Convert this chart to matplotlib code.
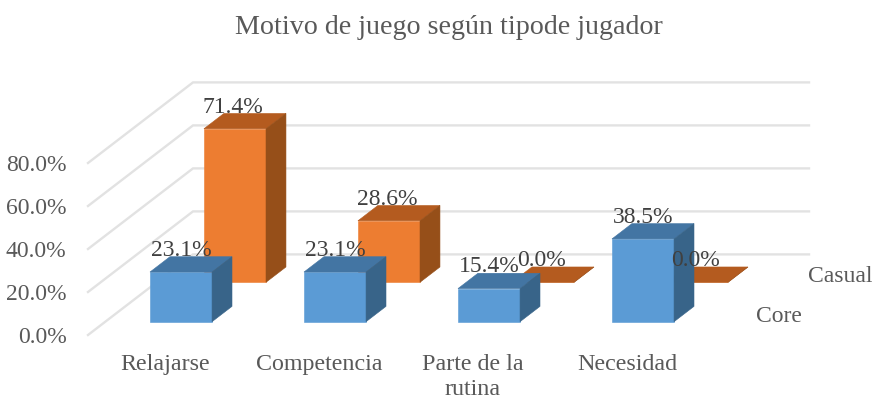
import matplotlib
matplotlib.use("Agg")
import matplotlib.pyplot as plt
from matplotlib.patches import Polygon

categories = ["Relajarse", "Competencia", "Parte de la\nrutina", "Necesidad"]
core = [23.1, 23.1, 15.4, 38.5]
casual = [71.4, 28.6, 0.0, 0.0]
yticks = [0, 20, 40, 60, 80]
title = "Motivo de juego según tipode jugador"

W, H = 873, 400
plt.rcParams["font.family"] = ["Liberation Serif", "DejaVu Serif"]
fig = plt.figure(figsize=(W / 100, H / 100), dpi=100, facecolor="white")

# plot box = the front wall of the 3D frame, in pixels
L, R, B, T = 88, 704, 335, 163
ax = fig.add_axes([L / W, 1 - B / H, (R - L) / W, (B - T) / H])
ax.set_xlim(0, 4)
ax.set_ylim(0, 80)
ax.patch.set_alpha(0)
for s in ax.spines.values():
    s.set_visible(False)

# oblique depth: one full floor depth shifts right and up, in data units
DX = 105 / 154
DY = 80.6 / 2.15


def proj(x, v, d):
    return (x + d * DX, v + d * DY)


GRID = "#E2E2E2"
for v in yticks:
    p0, p1 = proj(0, v, 0), proj(0, v, 1)
    p2 = proj(4, v, 1)
    ax.plot([p0[0], p1[0], p2[0]], [p0[1], p1[1], p2[1]], color=GRID, lw=1.7,
            solid_joinstyle="miter", clip_on=False, zorder=1)

BAR_W = 0.403
BAR_D = 0.19


def bar3d(x, v, d, front, top, side, z):
    x1 = x + BAR_W
    d1 = d + BAR_D
    faces = [
        ([proj(x, 0, d), proj(x1, 0, d), proj(x1, v, d), proj(x, v, d)], front),
        ([proj(x, v, d), proj(x1, v, d), proj(x1, v, d1), proj(x, v, d1)], top),
        ([proj(x1, 0, d), proj(x1, 0, d1), proj(x1, v, d1), proj(x1, v, d)], side),
    ]
    for pts, c in faces:
        ax.add_patch(Polygon(pts, closed=True, facecolor=c, edgecolor=c, lw=0.4,
                             clip_on=False, zorder=z))


D_CORE, D_CASUAL = 0.165, 0.654
X_CORE, X_CASUAL = 0.29, 0.307
TXT = "#404040"
FS = 17

labels = []
for i, v in enumerate(casual):
    bar3d(i + X_CASUAL, v, D_CASUAL, "#ED7D31", "#B45B1F", "#964F19", 2)
    px = proj(i + X_CASUAL + BAR_W / 2, v, D_CASUAL)[0]
    py = proj(i + X_CASUAL, v, D_CASUAL + BAR_D)[1]
    labels.append((px, py, v, -1.2))
for i, v in enumerate(core):
    bar3d(i + X_CORE, v, D_CORE, "#5B9BD5", "#4375A3", "#386489", 3)
    px = proj(i + X_CORE + BAR_W / 2, v, D_CORE)[0]
    py = proj(i + X_CORE, v, D_CORE + BAR_D)[1]
    labels.append((px, py, v, 0.3))

for px, py, v, off in labels:
    ax.annotate(f"{v:.1f}%", (px, py), xytext=(off, 0.6), textcoords="offset points",
                ha="center", va="baseline", fontsize=FS, color=TXT, zorder=5,
                annotation_clip=False)

ax.set_yticks(yticks)
ax.set_yticklabels([f"{v:.1f}%" for v in yticks], fontsize=FS, color="#595959")
ax.set_xticks([i + 0.5 for i in range(len(categories))])
ax.set_xticklabels(categories, fontsize=17.3, color="#595959", linespacing=1.2)
ax.tick_params(axis="both", length=0)
ax.tick_params(axis="y", pad=15.5)
ax.tick_params(axis="x", pad=14)

# series names on the depth axis
for name, d, xo, dy in (("Core", D_CORE + BAR_D / 2, 0.161, 8.3),
                        ("Casual", D_CASUAL + BAR_D / 2, 0.164, 7.8)):
    px, py = proj(4 + xo, 0, d)
    ax.text(px, py - dy / 2.15, name, fontsize=FS, color="#595959", ha="left", va="baseline",
            clip_on=False)

fig.text(449 / W, 1 - 27 / H, title, fontsize=20.2, color="#595959", ha="center", va="center")

fig.savefig("out.png", dpi=100)
